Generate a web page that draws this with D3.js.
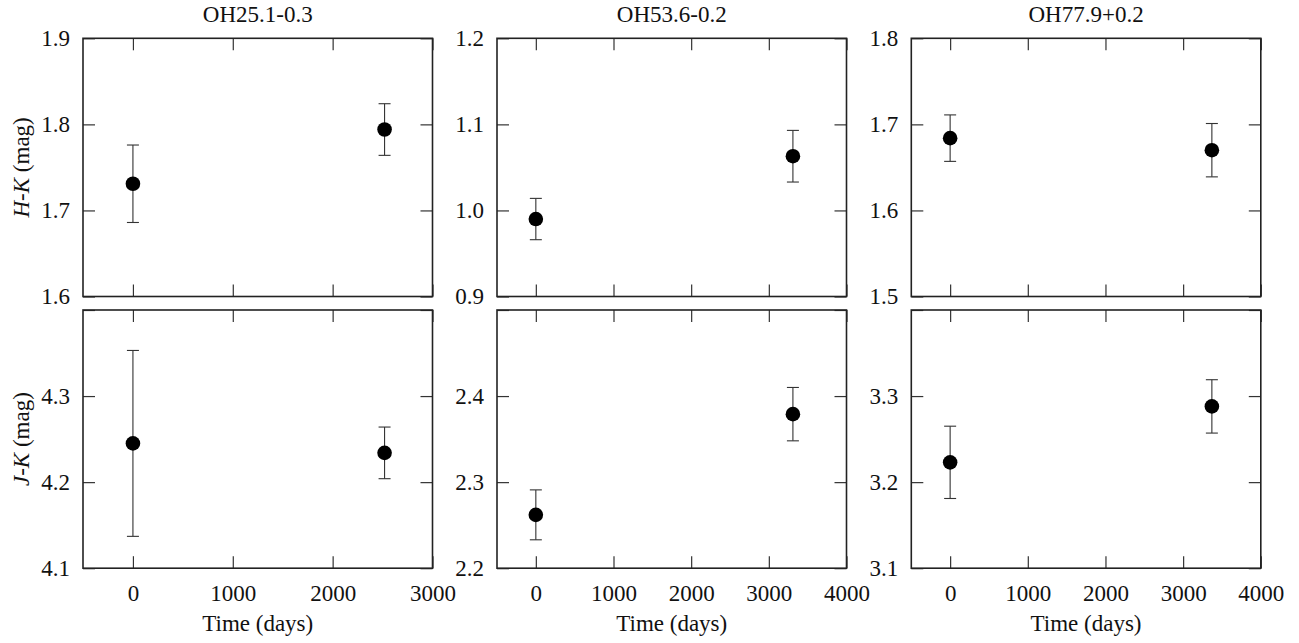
<!DOCTYPE html>
<html>
<head>
<meta charset="utf-8">
<script src="https://cdn.jsdelivr.net/npm/d3@7"></script>
<style>
  body { margin: 0; background: #fff; }
  svg text { font-family: "Liberation Serif", "Times New Roman", serif; fill: #111; }
</style>
</head>
<body>
<svg id="chart" width="1299" height="643"></svg>
<script>
// ---------- data ----------
var targets = ["OH25.1-0.3", "OH53.6-0.2", "OH77.9+0.2"]
var timeDays = [[0, 2520], [0, 3310], [0, 3370]]
var hk = [[1.731, 1.794], [0.990, 1.063], [1.684, 1.670]]
var hkErr = [[0.045, 0.030], [0.024, 0.030], [0.027, 0.031]]
var jk = [[4.245, 4.234], [2.262, 2.379], [3.223, 3.288]]
var jkErr = [[0.108, 0.030], [0.029, 0.031], [0.042, 0.031]]
var xDomains = [[-500, 3000], [-500, 4000], [-500, 4000]]
var hkDomains = [[1.6, 1.9], [0.9, 1.2], [1.5, 1.8]]
var jkDomains = [[4.1, 4.4], [2.2, 2.5], [3.1, 3.4]]

// ---------- layout ----------
var panelLeft = [83, 497, 911.3]
var panelW = 349.5
var rowTop = [38.3, 310]
var panelH = 258.2
var fontSize = 23

var svg = d3.select("#chart")
var fmt = d3.format(".1f")

function inwardAxes(g, x, y, showXLabels, yLabelValues) {
    var w = panelW, h = panelH
    var xMajor = d3.range(Math.ceil(x.domain()[0] / 1000) * 1000, x.domain()[1] + 1, 1000)
    var xMinor = d3.range(x.domain()[0] + 500, x.domain()[1], 1000)
        .filter(function(v){ return v % 1000 != 0 })
    var yMajor = y.ticks(4)

    // bottom
    g.append("g").attr("transform", "translate(0," + h + ")")
        .call(d3.axisBottom(x).tickValues(xMajor).tickSize(-12).tickPadding(16)
            .tickFormat(showXLabels ? d3.format("d") : ""))
    g.append("g").attr("transform", "translate(0," + h + ")")
        .call(d3.axisBottom(x).tickValues(xMinor).tickSize(-6).tickFormat(""))
    // top
    g.append("g")
        .call(d3.axisTop(x).tickValues(xMajor).tickSize(-12).tickFormat(""))
    g.append("g")
        .call(d3.axisTop(x).tickValues(xMinor).tickSize(-6).tickFormat(""))
    // left
    g.append("g")
        .call(d3.axisLeft(y).tickValues(yMajor).tickSize(-12).tickPadding(13)
            .tickFormat(function(d){ return yLabelValues.some(function(v){ return Math.abs(v - d) < 1e-9 }) ? fmt(d) : "" }))
    // right
    g.append("g").attr("transform", "translate(" + w + ",0)")
        .call(d3.axisRight(y).tickValues(yMajor).tickSize(-12).tickFormat(""))

    g.selectAll(".domain").remove()
    g.selectAll(".tick line").attr("stroke", "#333").attr("stroke-width", 1.2)
    g.selectAll(".tick text").style("font-size", fontSize + "px")
        .style("font-family", "Liberation Serif")
        .attr("fill", "#111")

    g.append("rect")
        .attr("width", w).attr("height", h)
        .attr("fill", "none").attr("stroke", "#222").attr("stroke-width", 1.6)
}

function drawPoints(g, x, y, xs, ys, es) {
    var pts = xs.map(function(t, i){ return {t: t, v: ys[i], e: es[i]} })
    var bars = g.append("g")
    pts.forEach(function(p){
        var cx = x(p.t)
        bars.append("line").attr("x1", cx).attr("x2", cx)
            .attr("y1", y(p.v - p.e)).attr("y2", y(p.v + p.e))
        bars.append("line").attr("x1", cx - 6).attr("x2", cx + 6)
            .attr("y1", y(p.v + p.e)).attr("y2", y(p.v + p.e))
        bars.append("line").attr("x1", cx - 6).attr("x2", cx + 6)
            .attr("y1", y(p.v - p.e)).attr("y2", y(p.v - p.e))
    })
    bars.selectAll("line").attr("stroke", "#333").attr("stroke-width", 1.1)

    g.selectAll(".pt").data(pts).enter()
        .append("circle")
        .attr("class", "pt")
        .attr("cx", function(d){ return x(d.t) })
        .attr("cy", function(d){ return y(d.v) })
        .attr("r", 7.3)
        .attr("fill", "#000")
}

for (var p = 0; p < 3; p++) {
    var x = d3.scaleLinear().domain(xDomains[p]).range([0, panelW])

    // top row: H-K
    var yTop = d3.scaleLinear().domain(hkDomains[p]).range([panelH, 0])
    var gTop = svg.append("g").attr("transform", "translate(" + panelLeft[p] + "," + rowTop[0] + ")")
    inwardAxes(gTop, x, yTop, false, yTop.ticks(4))
    drawPoints(gTop, x, yTop, timeDays[p], hk[p], hkErr[p])

    // bottom row: J-K (top label dropped, it would collide with the row above)
    var yBot = d3.scaleLinear().domain(jkDomains[p]).range([panelH, 0])
    var gBot = svg.append("g").attr("transform", "translate(" + panelLeft[p] + "," + rowTop[1] + ")")
    inwardAxes(gBot, x, yBot, true, yBot.ticks(4).slice(0, -1))
    drawPoints(gBot, x, yBot, timeDays[p], jk[p], jkErr[p])

    // titles
    svg.append("text")
        .attr("x", panelLeft[p] + panelW / 2).attr("y", 22)
        .attr("text-anchor", "middle")
        .style("font-size", fontSize + "px")
        .text(targets[p])

    // x label
    svg.append("text")
        .attr("x", panelLeft[p] + panelW / 2).attr("y", 631)
        .attr("text-anchor", "middle")
        .style("font-size", fontSize + "px")
        .text("Time (days)")
}

// y labels with italic band names
function yLabel(cy, a, b) {
    var t = svg.append("text")
        .attr("transform", "translate(29," + cy + ") rotate(-90)")
        .attr("text-anchor", "middle")
        .style("font-size", fontSize + "px")
    t.append("tspan").style("font-style", "italic").text(a)
    t.append("tspan").text("-")
    t.append("tspan").style("font-style", "italic").text(b)
    t.append("tspan").text(" (mag)")
}
yLabel(rowTop[0] + panelH / 2, "H", "K")
yLabel(rowTop[1] + panelH / 2, "J", "K")
</script>
</body>
</html>
